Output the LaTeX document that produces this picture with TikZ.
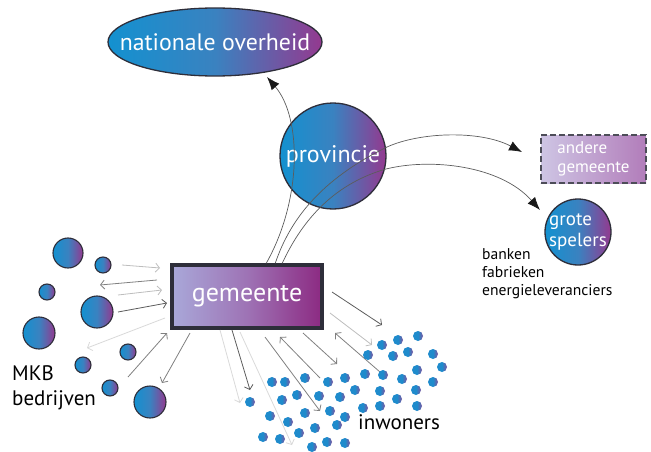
\documentclass[tikz,border=0pt]{standalone}
\usepackage{fontspec}
\setmainfont{PT Sans}
\usetikzlibrary{arrows.meta,shapes.geometric,calc}

\definecolor{cblue}{HTML}{1391D0}
\definecolor{cmid}{HTML}{3A82C0}
\definecolor{cpurp}{HTML}{94398F}
\definecolor{edge}{HTML}{2E2E3A}
\definecolor{gemleft}{HTML}{A9A8D9}
\definecolor{gemmid}{HTML}{9E73B5}
\definecolor{gemright}{HTML}{8C2A82}
\definecolor{andleft}{HTML}{CEC5E4}
\definecolor{andright}{HTML}{B27DBA}
\definecolor{dotblue}{HTML}{1F8BCC}
\definecolor{dotpurp}{HTML}{7E559F}
\definecolor{gdark}{HTML}{5C5C5C}
\definecolor{gmed}{HTML}{808080}
\definecolor{glight}{HTML}{BDBDBD}
\definecolor{gpale}{HTML}{D9D9D9}

\tikzset{
  bubble/.style={draw=edge, line width=1.3pt, left color=cblue, right color=cpurp,
    middle color=cmid, text=white, inner sep=0pt},
  mkb/.style={circle, draw=edge, line width=1.1pt, left color=cblue, right color=cpurp,
    middle color=cmid, minimum size=#1, inner sep=0pt},
  inw/.style={circle, left color=dotblue, right color=dotpurp, middle color=dotblue,
    minimum size=10pt, inner sep=0pt},
  link/.style={draw=gdark, line width=0.7pt, -{Latex[length=13pt,width=10pt,color=black!90]}},
  flow/.style={line width=0.8pt, -{Straight Barb[length=4pt,width=9pt]}},
  caption/.style={text=black, align=left, inner sep=0pt, anchor=base west},
}

\begin{document}
\begin{tikzpicture}[x=1pt,y=-1pt]
\useasboundingbox (0,0) rectangle (651,452);

% main actors (ellipse and small circle get fixed sizes, text set as centred label)
\node[bubble, ellipse, minimum width=214pt, minimum height=68pt,
      label={[text=white, font=\fontsize{23.8}{28}\selectfont]center:nationale overheid}]
      (nat) at (215,42) {};
\node[bubble, circle, minimum size=106pt,
      font=\fontsize{24}{28}\selectfont] (prov) at (333,156) {provincie};
\node[draw=edge!85, line width=2pt, dash pattern=on 6pt off 3pt,
      left color=andleft, right color=andright, text=white, align=left,
      minimum width=105pt, minimum height=48pt, inner sep=0pt,
      font=\fontsize{17}{19}\selectfont] (andere) at (593.5,159) {andere\\gemeente};
\node[bubble, circle, minimum size=66pt,
      label={[text=white, align=left, font=\fontsize{19}{21}\selectfont]center:grote\\spelers}]
      (grote) at (578,232) {};
\node[draw=edge, line width=3.5pt, left color=gemleft, right color=gemright,
      middle color=gemmid, text=white, minimum width=150pt, minimum height=63pt,
      font=\fontsize{26}{30}\selectfont] (gem) at (247,296.5) {gemeente};

% captions (base anchor sits on the last line)
\node[caption, font=\fontsize{15.6}{18}\selectfont] (cap) at (482,295)
  {banken\\fabrieken\\energieleveranciers};
\node[caption, font=\fontsize{21}{25}\selectfont] (mkbcap) at (12,405) {MKB\\bedrijven};
\node[caption, font=\fontsize{21}{25}\selectfont] (inwcap) at (358,429) {inwoners};

% links from gemeente via provincie
\coordinate (g1) at ($(gem.north west)+(96,0)$);
\coordinate (g2) at ($(gem.north west)+(105,0)$);
\coordinate (g3) at ($(gem.north west)+(112,0)$);
\coordinate (natin) at (267,77);
\coordinate (andin) at (522,152);
\coordinate (grotein) at (540,210);
\draw[link] (g1) .. controls (302,200) and (302,118) .. (natin);
\draw[link] (g2) .. controls (290,220) and (320,180) .. (387,147)
                 .. controls (420,132) and (480,130) .. (andin);
\draw[link] (g3) .. controls (300,225) and (330,185) .. (386,169)
                 .. controls (430,158) and (500,165) .. (grotein);

% MKB bedrijven
\node[mkb=30pt] (m1) at (68,253) {};
\node[mkb=16pt] (m2) at (103,265) {};
\node[mkb=16pt] (m3) at (47,292) {};
\node[mkb=32pt] (m4) at (97,312) {};
\node[mkb=32pt] (m5) at (39,333) {};
\node[mkb=16pt] (m6) at (128,352) {};
\node[mkb=16pt] (m7) at (83,365) {};
\node[mkb=16pt] (m8) at (110,388) {};
\node[mkb=32pt] (m9) at (150,402) {};

% exchanges with MKB
\draw[flow, draw=glight] (122,265) -- (160,268);
\draw[flow, draw=gmed]   (157,280) -- (100,285);
\draw[flow, draw=glight] (118,295) -- (162,290);
\draw[flow, draw=gdark]  (118,312) -- (167,303);
\draw[flow, draw=gpale]  (165,318) -- (87,348);
\draw[flow, draw=gmed]   (128,377) -- (167,333);
\draw[flow, draw=gmed]   (190,333) -- (162,383);

% exchanges with inwoners
\draw[flow, draw=gpale]  (220,330) -- (240,403);
\draw[flow, draw=gdark]  (232,330) -- (250,390);
\draw[flow, draw=gpale]  (240,332) -- (292,445);
\draw[flow, draw=gmed]   (265,337) -- (320,411);
\draw[flow, draw=gmed]   (320,378) -- (280,337);
\draw[flow, draw=gmed]   (303,333) -- (337,364);
\draw[flow, draw=gmed]   (380,372) -- (335,333);
\draw[flow, draw=glight] (330,313) -- (372,345);
\draw[flow, draw=gdark]  (332,292) -- (382,325);

% inwoners
\foreach \p [count=\i] in {
  (418,336),(398,340),(382,345),(368,355),(393,356),(408,352),(433,354),
  (442,367),(417,370),(402,379),(383,375),(365,374),(345,378),(433,382),
  (416,390),(397,399),(380,391),(355,390),(417,406),(380,406),(363,408),
  (345,417),(272,382),(285,382),(305,378),(328,382),(250,402),(282,400),
  (297,395),(319,396),(340,397),(270,416),(288,422),(305,413),(330,411),
  (263,437),(280,439),(299,433),(315,428),(337,425),(312,447),(327,442),
  (345,443)}
  \node[inw] (d\i) at \p {};
\end{tikzpicture}
\end{document}
